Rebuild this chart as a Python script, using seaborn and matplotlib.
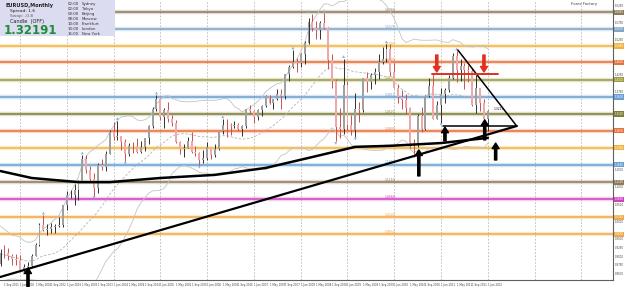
import matplotlib
matplotlib.use("Agg")
import matplotlib.pyplot as plt
import matplotlib.transforms as mtransforms
from matplotlib.patches import Rectangle
import numpy as np
import pandas as pd
import seaborn as sns

# EURUSD monthly bars, Aug 2001 .. Jan 2012
start_month = "2001-08-01"
opens = [0.8776, 0.9112, 0.9105, 0.9002, 0.8917,
         0.8903, 0.8603, 0.8700, 0.8720, 0.9021, 0.9335, 0.9905, 0.9777, 0.9808, 0.9865, 0.9890, 0.9920,
         1.0488, 1.0765, 1.0780, 1.0913, 1.1170, 1.1810, 1.1496, 1.1237, 1.0990, 1.1653, 1.1593, 1.1976,
         1.2595, 1.2455, 1.2476, 1.2315, 1.1977, 1.2204, 1.2182, 1.2026, 1.2168, 1.2420, 1.2759, 1.3269,
         1.3554, 1.3042, 1.3230, 1.2962, 1.2870, 1.2302, 1.2102, 1.2125, 1.2339, 1.2025, 1.1991, 1.1794,
         1.1840, 1.2155, 1.1925, 1.2115, 1.2624, 1.2815, 1.2794, 1.2766, 1.2812, 1.2676, 1.2761, 1.3250,
         1.3197, 1.3022, 1.3225, 1.3357, 1.3653, 1.3451, 1.3540, 1.3690, 1.3633, 1.4267, 1.4485, 1.4631,
         1.4590, 1.4861, 1.5183, 1.5785, 1.5609, 1.5543, 1.5751, 1.5605, 1.4675, 1.4080, 1.2733, 1.2695,
         1.3970, 1.2800, 1.2669, 1.3250, 1.3235, 1.4158, 1.4031, 1.4257, 1.4340, 1.4632, 1.4715, 1.5000,
         1.4332, 1.3866, 1.3625, 1.3511, 1.3295, 1.2272, 1.2235, 1.3052, 1.2678, 1.3633, 1.3925, 1.2986,
         1.3380, 1.3692, 1.3802, 1.4166, 1.4808, 1.4396, 1.4497, 1.4397, 1.4375, 1.3389, 1.3857, 1.3451,
         1.2961]
highs = [0.9221, 0.9334, 0.9253, 0.9073, 0.9070,
         0.9043, 0.8787, 0.8835, 0.9064, 0.9393, 0.9978, 1.0198, 0.9933, 0.9963, 0.9938, 1.0144, 1.0498,
         1.0880, 1.0934, 1.1082, 1.1203, 1.1933, 1.1932, 1.1609, 1.1415, 1.1693, 1.1823, 1.2039, 1.2647,
         1.2900, 1.2930, 1.2477, 1.2389, 1.2275, 1.2318, 1.2437, 1.2332, 1.2436, 1.2793, 1.3310, 1.3667,
         1.3580, 1.3288, 1.3478, 1.3092, 1.2957, 1.2350, 1.2239, 1.2468, 1.2586, 1.2194, 1.2008, 1.2088,
         1.2323, 1.2171, 1.2255, 1.2628, 1.2978, 1.2980, 1.2863, 1.2914, 1.2872, 1.2791, 1.3252, 1.3366,
         1.3225, 1.3254, 1.3385, 1.3682, 1.3660, 1.3545, 1.3852, 1.3846, 1.4283, 1.4528, 1.4967, 1.4742,
         1.4874, 1.5240, 1.5904, 1.6019, 1.5818, 1.5803, 1.6038, 1.5620, 1.4867, 1.4143, 1.3298, 1.4719,
         1.4065, 1.3078, 1.3738, 1.3475, 1.4168, 1.4339, 1.4304, 1.4447, 1.4844, 1.5062, 1.5145, 1.5144,
         1.4579, 1.3985, 1.3818, 1.3690, 1.3314, 1.2386, 1.3105, 1.3333, 1.3679, 1.4157, 1.4282, 1.3500,
         1.3862, 1.3862, 1.4249, 1.4882, 1.4940, 1.4699, 1.4579, 1.4549, 1.4448, 1.4247, 1.3874, 1.3555,
         1.3234]
lows = [0.8725, 0.8970, 0.8886, 0.8745, 0.8759,
        0.8578, 0.8565, 0.8609, 0.8686, 0.9010, 0.9300, 0.9735, 0.9610, 0.9668, 0.9689, 0.9862, 0.9862,
        1.0355, 1.0687, 1.0502, 1.0641, 1.1148, 1.1409, 1.1171, 1.0760, 1.0835, 1.1492, 1.1478, 1.1973,
        1.2356, 1.2367, 1.2087, 1.1760, 1.1910, 1.1990, 1.1992, 1.2003, 1.2053, 1.2263, 1.2725, 1.3205,
        1.2945, 1.2724, 1.2885, 1.2770, 1.2290, 1.1955, 1.1869, 1.2123, 1.2001, 1.1892, 1.1640, 1.1707,
        1.1800, 1.1827, 1.1883, 1.2067, 1.2527, 1.2456, 1.2525, 1.2719, 1.2629, 1.2484, 1.2715, 1.3121,
        1.2866, 1.2932, 1.3070, 1.3323, 1.3405, 1.3259, 1.3510, 1.3261, 1.3551, 1.4063, 1.4441, 1.4340,
        1.4469, 1.4567, 1.5128, 1.5509, 1.5284, 1.5284, 1.5585, 1.4432, 1.3881, 1.2329, 1.2425, 1.2535,
        1.2662, 1.2514, 1.2456, 1.2887, 1.3177, 1.3747, 1.3852, 1.4000, 1.4132, 1.4578, 1.4630, 1.4218,
        1.3858, 1.3435, 1.3267, 1.3114, 1.2143, 1.1876, 1.2152, 1.2588, 1.2659, 1.3600, 1.2969, 1.2968,
        1.2873, 1.3430, 1.3749, 1.4132, 1.4050, 1.4069, 1.3836, 1.4050, 1.3362, 1.3144, 1.3212, 1.2858,
        1.2624]
closes = [0.9112, 0.9105, 0.9002, 0.8917, 0.8903,
          0.8603, 0.8700, 0.8720, 0.9021, 0.9335, 0.9905, 0.9777, 0.9808, 0.9865, 0.9890, 0.9920, 1.0488,
          1.0765, 1.0780, 1.0913, 1.1170, 1.1810, 1.1496, 1.1237, 1.0990, 1.1653, 1.1593, 1.1976, 1.2595,
          1.2455, 1.2476, 1.2315, 1.1977, 1.2204, 1.2182, 1.2026, 1.2168, 1.2420, 1.2759, 1.3269, 1.3554,
          1.3042, 1.3230, 1.2962, 1.2870, 1.2302, 1.2102, 1.2125, 1.2339, 1.2025, 1.1991, 1.1794, 1.1840,
          1.2155, 1.1925, 1.2115, 1.2624, 1.2815, 1.2794, 1.2766, 1.2812, 1.2676, 1.2761, 1.3250, 1.3197,
          1.3022, 1.3225, 1.3357, 1.3653, 1.3451, 1.3540, 1.3690, 1.3633, 1.4267, 1.4485, 1.4631, 1.4590,
          1.4861, 1.5183, 1.5785, 1.5609, 1.5543, 1.5751, 1.5605, 1.4675, 1.4080, 1.2733, 1.2695, 1.3970,
          1.2800, 1.2669, 1.3250, 1.3235, 1.4158, 1.4031, 1.4257, 1.4340, 1.4632, 1.4715, 1.5000, 1.4332,
          1.3866, 1.3625, 1.3511, 1.3295, 1.2272, 1.2235, 1.3052, 1.2678, 1.3633, 1.3925, 1.2986, 1.3380,
          1.3692, 1.3802, 1.4166, 1.4808, 1.4396, 1.4497, 1.4397, 1.4375, 1.3389, 1.3857, 1.3451, 1.2961,
          1.3219]
# closes Jan 2000 .. Jul 2001, only used to warm up the bands
prior_closes = [0.9712, 0.9652, 0.9574, 0.9108, 0.9347, 0.9522, 0.9268, 0.8870, 0.8836, 0.8491,
                0.8703, 0.9388, 0.9375, 0.9211, 0.8799, 0.8877, 0.8463, 0.8484, 0.8776]

# slow moving average
ma_bar = [0, 8, 20, 28, 41, 55, 68, 79, 91, 100, 113, 125]
ma_val = [1.147, 1.127, 1.115, 1.115, 1.127, 1.136, 1.156, 1.185, 1.217, 1.220, 1.228, 1.243]

# horizontal levels and their colours
levels = [1.6065, 1.5575, 1.5085, 1.4620, 1.4105, 1.3610, 1.3120, 1.2630,
          1.2140, 1.1650, 1.1150, 1.0660, 1.0140, 0.9650]
level_colors = ["#8C7A5A", "#7FA7C9", "#F0B440", "#E8703A", "#9A9A3E", "#6A9FD4", "#7E7E36", "#E8703A",
                "#F0B440", "#6A9FD4", "#8C7A5A", "#D040C0", "#F0A848", "#F0A848"]

# fractal markers
frac_hi_bar = [11, 21, 30, 40, 57, 75, 79, 83, 88, 99, 117]
frac_hi_val = [1.0198, 1.1933, 1.2930, 1.3667, 1.2978, 1.4967, 1.6019, 1.6038, 1.4719, 1.5145, 1.4940]
frac_lo_bar = [6, 24, 32, 51, 86, 91, 107, 113]
frac_lo_val = [0.8565, 1.0760, 1.1760, 1.1640, 1.2329, 1.2456, 1.1876, 1.2873]

# drawn objects
trend_up = ([-0.1, 132.4], [0.8408, 1.2772])
trend_down = ([117.3, 132.4], [1.4969, 1.2772])
neckline = ([113.5, 132.4], [1.2772, 1.2772])
red_line = ([110.6, 127.6], [1.4275, 1.4275])
red_arrows = [(111.9, 1.4824, 1.4333), (124.0, 1.4824, 1.4333)]
black_arrows = [(7.05, 0.812, 0.867), (107.3, 1.133, 1.208), (114.0, 1.234, 1.274),
                (124.2, 1.237, 1.295), (127.0, 1.179, 1.228)]

sns.set_theme(style="white")
plt.rcParams["font.family"] = ["DejaVu Sans"]

fig = plt.figure(figsize=(6.25, 2.87), dpi=100)
ax = fig.add_axes([0, 7 / 287, 613 / 625, 280 / 287])

bars = pd.DataFrame({"bar": np.arange(len(closes)), "open": opens, "high": highs,
                     "low": lows, "close": closes,
                     "month": pd.date_range(start_month, periods=len(closes), freq="MS")})

# yearly dotted grid
for b in range(5, 160, 12):
    ax.axvline(b, color="#B8B8B8", lw=0.6, ls=(0, (2, 2)), zorder=0)

# horizontal levels with a soft halo
for lv, c in zip(levels, level_colors):
    ax.axhline(lv, color=c, lw=3.2, alpha=0.25, zorder=1)
    ax.axhline(lv, color=c, lw=1.1, zorder=1)
    ax.text(98.5, lv + 0.004, f"{lv:.4f}", color=c, fontsize=2.2, zorder=2)

# bollinger bands from closes
allc = pd.Series(prior_closes + closes)
mid = allc.rolling(20).mean().iloc[len(prior_closes):].to_numpy()
sd = allc.rolling(20).std().iloc[len(prior_closes):].to_numpy()
bands = pd.DataFrame({"bar": bars["bar"], "mid": mid, "up": mid + 2 * sd, "dn": mid - 2 * sd})
sns.lineplot(data=bands, x="bar", y="up", ax=ax, color="#C4C4C4", lw=0.6)
sns.lineplot(data=bands, x="bar", y="dn", ax=ax, color="#C4C4C4", lw=0.6)
sns.lineplot(data=bands, x="bar", y="mid", ax=ax, color="#B4B4B4", lw=0.6, ls=(0, (3, 2)))

# candles
bull = bars["close"] >= bars["open"]
ax.vlines(bars["bar"][bull], bars["low"][bull], bars["high"][bull], color="#303030", lw=0.7, zorder=3)
ax.vlines(bars["bar"][~bull], bars["low"][~bull], bars["high"][~bull], color="#C85050", lw=0.7, zorder=3)
ax.bar(bars["bar"][bull], (bars["close"] - bars["open"])[bull], bottom=bars["open"][bull],
       width=0.5, color="#A0A0A0", edgecolor="none", zorder=4)
ax.bar(bars["bar"][~bull], (bars["close"] - bars["open"])[~bull], bottom=bars["open"][~bull],
       width=0.5, color="#EFA8A8", edgecolor="none", zorder=4)

sns.scatterplot(x=frac_hi_bar, y=np.array(frac_hi_val) + 0.006, ax=ax, marker="^", s=4,
                color="#7FB0E0", edgecolor="none", zorder=5)
sns.scatterplot(x=frac_lo_bar, y=np.array(frac_lo_val) - 0.006, ax=ax, marker="v", s=4,
                color="#7FB0E0", edgecolor="none", zorder=5)

# slow MA and trendlines
sns.lineplot(x=ma_bar, y=ma_val, ax=ax, color="black", lw=1.8, zorder=6)
sns.lineplot(x=trend_up[0], y=trend_up[1], ax=ax, color="black", lw=1.6, zorder=6)
sns.lineplot(x=trend_down[0], y=trend_down[1], ax=ax, color="black", lw=1.1, zorder=6)
sns.lineplot(x=neckline[0], y=neckline[1], ax=ax, color="black", lw=1.1, zorder=6)
sns.lineplot(x=red_line[0], y=red_line[1], ax=ax, color="#E03020", lw=1.4, zorder=6)

for bx, y0, y1 in red_arrows:
    ax.annotate("", xy=(bx, y1), xytext=(bx, y0), zorder=7,
                arrowprops=dict(facecolor="#E03020", edgecolor="#E03020", width=1.6,
                                headwidth=5, headlength=4, shrink=0))
for bx, y0, y1 in black_arrows:
    ax.annotate("", xy=(bx, y1), xytext=(bx, y0), zorder=7, annotation_clip=False,
                arrowprops=dict(facecolor="black", edgecolor="black", width=1.6,
                                headwidth=5, headlength=4, shrink=0))

ax.text(126.5, 1.3235, "1.3219", fontsize=2.2, color="#202020", zorder=8)

ax.set_xlim(-0.13, 157.1)
ax.set_ylim(0.8322, 1.6414)
ax.set_xlabel("")
ax.set_ylabel("")

# right price scale
for spine in ["left", "top"]:
    ax.spines[spine].set_visible(False)
for spine in ["right", "bottom"]:
    ax.spines[spine].set_color("#606060")
    ax.spines[spine].set_linewidth(0.8)
ax.set_xticks([])
ax.set_yticks([])
ytr = mtransforms.blended_transform_factory(ax.transAxes, ax.transData)
for p in np.arange(0.850, 1.640, 0.025):
    if min(abs(p - lv) for lv in levels) < 0.014:
        continue
    ax.text(1.003, p, f"{p:.4f}", transform=ytr, fontsize=1.9, color="#404040",
            va="center", ha="left", clip_on=False)
for lv, c in zip(levels, level_colors):
    ax.text(1.003, lv, f"{lv:.4f}", transform=ytr, fontsize=1.9, color="white",
            va="center", ha="left", clip_on=False,
            bbox=dict(boxstyle="square,pad=0.2", fc=c, ec="none"))

# date scale
xtr = mtransforms.blended_transform_factory(ax.transData, ax.transAxes)
for b in range(1, len(closes), 4):
    m = bars["month"][b]
    ax.text(b, -0.01, f"1 {m.strftime('%b %Y')}", transform=xtr, fontsize=1.9,
            color="#404040", va="top", ha="left", clip_on=False)

# info panel
fig.patches.append(Rectangle((0, 1 - 36 / 287), 115 / 625, 36 / 287, transform=fig.transFigure,
                             facecolor="#DCDCF0", edgecolor="none", zorder=10))
fig.text(6 / 625, 1 - 5 / 287, "EURUSD,Monthly", fontsize=3.6, weight="bold", color="#202020",
         va="center", zorder=11)
fig.text(10 / 625, 1 - 11 / 287, "Spread: 1.6", fontsize=3.2, color="#202020", va="center", zorder=11)
fig.text(10 / 625, 1 - 16 / 287, "Swap: -0.8", fontsize=3.2, color="#606060", va="center", zorder=11)
fig.text(10 / 625, 1 - 22 / 287, "Candle  (OFF)", fontsize=3.6, color="#202020", va="center", zorder=11)
fig.text(4 / 625, 1 - 30 / 287, "1.32191", fontsize=8.5, weight="bold", color="#1E8C3A",
         va="center", zorder=11)
sessions = ["Sydney", "Tokyo", "Beijing", "Moscow", "Frankfurt", "London", "New York"]
times = ["02:00", "02:00", "03:00", "08:00", "10:00", "10:00", "15:00"]
for i, (t, s) in enumerate(zip(times, sessions)):
    fig.text(68 / 625, 1 - (4 + 5 * i) / 287, t, fontsize=2.8, color="#303030", va="center", zorder=11)
    fig.text(82 / 625, 1 - (4 + 5 * i) / 287, s, fontsize=2.8, color="#303030", va="center", zorder=11)

fig.text(597 / 625, 1 - 4 / 287, "Forex Factory", fontsize=2.8, color="#404040", ha="right",
         va="center")

fig.savefig("out.png", dpi=100, facecolor="white")
